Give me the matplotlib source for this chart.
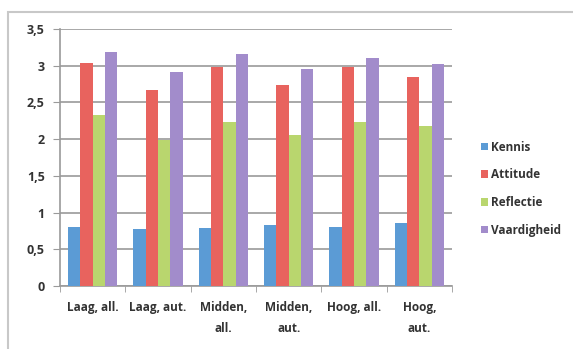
import matplotlib.pyplot as plt
import numpy as np
from matplotlib.patches import Rectangle
from matplotlib.ticker import FuncFormatter, MultipleLocator

categories = ["Laag, all.", "Laag, aut.", "Midden,\nall.", "Midden,\naut.", "Hoog, all.", "Hoog,\naut."]
series_names = ["Kennis", "Attitude", "Reflectie", "Vaardigheid"]
kennis = [0.80, 0.77, 0.79, 0.83, 0.81, 0.86]
attitude = [3.04, 2.67, 2.98, 2.74, 2.98, 2.85]
reflectie = [2.33, 1.99, 2.24, 2.05, 2.24, 2.18]
vaardigheid = [3.19, 2.92, 3.16, 2.96, 3.10, 3.02]
colors = ["#5b9bd5", "#e8635e", "#b9d66e", "#a28ccb"]

plt.rcParams['font.family'] = ['Open Sans', 'DejaVu Sans']

fig = plt.figure(figsize=(5.73, 3.49), dpi=100)
ax = fig.add_axes([60 / 573, 1 - 286 / 349, 392 / 573, 257 / 349])

x = np.arange(len(categories))
width = 0.19
for i, (name, vals) in enumerate(zip(series_names, [kennis, attitude, reflectie, vaardigheid])):
    ax.bar(x + (i - 1.5) * width, vals, width, color=colors[i], label=name, zorder=3)

ax.set_ylim(0, 3.5)
ax.set_xlim(-0.5, len(categories) - 0.5)
ax.yaxis.set_major_locator(MultipleLocator(0.5))
ax.yaxis.set_major_formatter(FuncFormatter(lambda v, p: f"{v:g}".replace(".", ",")))
ax.grid(axis='y', color='#9a9a9a', linewidth=1.2, zorder=0)

for s in ['top', 'right']:
    ax.spines[s].set_visible(False)
ax.spines['left'].set_color('#9a9a9a')
ax.spines['bottom'].set_color('#9a9a9a')
ax.spines['left'].set_linewidth(1.2)
ax.spines['bottom'].set_linewidth(1.2)

ax.set_xticks(x)
ax.set_xticklabels(categories, fontsize=8.5, fontweight='bold', color='#333333', linespacing=1.75)
ax.set_xticks(np.arange(-0.5, len(categories)), minor=True)
ax.tick_params(axis='x', which='major', length=0, pad=11)
ax.tick_params(axis='x', which='minor', length=4, color='#9a9a9a')
ax.tick_params(axis='y', length=5, color='#9a9a9a', labelsize=9, labelcolor='#333333', pad=6)
for t in ax.get_yticklabels():
    t.set_fontweight('bold')

leg = fig.legend(loc='upper left', bbox_to_anchor=(470 / 573, 1 - 130 / 349), frameon=False,
                 fontsize=8.5, handlelength=0.6, handleheight=0.6, handletextpad=0.3, labelspacing=1.25)
for t in leg.get_texts():
    t.set_fontweight('bold')
    t.set_color('#333333')

# chart border
fig.patches.append(Rectangle((8 / 573, -0.1), 1.1, 1 - 12 / 349 + 0.1, transform=fig.transFigure,
                             fill=False, edgecolor='#c8c8c8', linewidth=1.5))

fig.savefig("out.png", dpi=100)
